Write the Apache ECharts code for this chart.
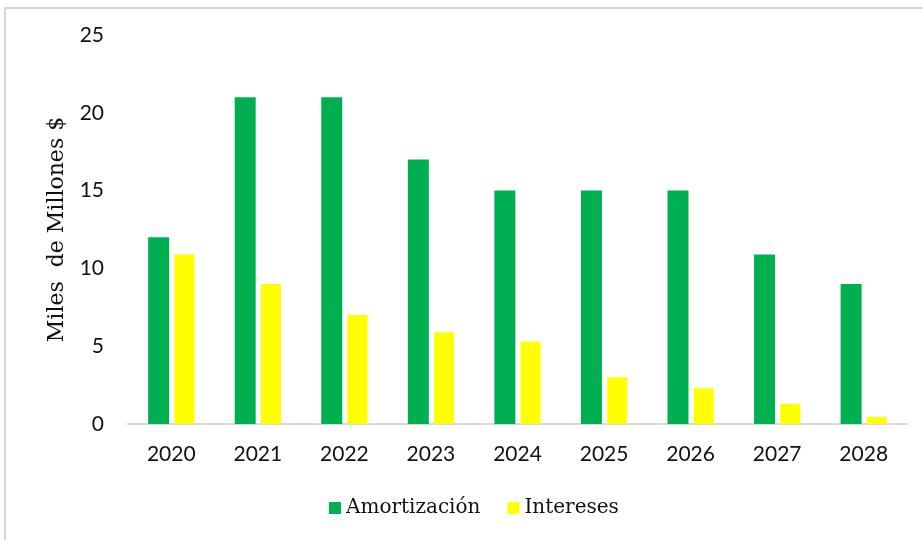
<!DOCTYPE html>
<html>
<head>
<meta charset="utf-8">
<style>
  html, body { margin: 0; padding: 0; background: #fff; }
  #frame { position: absolute; left: 4px; top: 7px; width: 919px; height: 533px;
           border-left: 2px solid #d6d6d6; border-top: 2px solid #d6d6d6; box-sizing: border-box; }
  #chart { position: absolute; left: 0; top: 0; width: 923px; height: 540px; }
</style>
<script src="https://cdn.jsdelivr.net/npm/echarts@6/dist/echarts.min.js"></script>
</head>
<body>
<div id="frame"></div>
<div id="chart"></div>
<script>
// Annual debt service, in thousands of millions of dollars
const years = ['2020', '2021', '2022', '2023', '2024', '2025', '2026', '2027', '2028'];
const amortizacion = [12, 21, 21, 17, 15, 15, 15, 10.9, 9];
const intereses = [10.9, 9, 7, 5.9, 5.3, 3, 2.3, 1.3, 0.45];
const yTicks = { min: 0, max: 25, interval: 5 };

const chart = echarts.init(document.getElementById('chart'), null, { renderer: 'canvas' });

const labelFont = 'Lato, "Open Sans", sans-serif';
const serifFont = '"DejaVu Serif", "Liberation Serif", serif';

chart.setOption({
  animation: false,
  backgroundColor: 'transparent',
  grid: { left: 128, right: 16, top: 35, bottom: 116 },
  legend: {
    data: ['Amortización', 'Intereses'],
    bottom: 17,
    left: 324,
    icon: 'rect',
    itemWidth: 12,
    itemHeight: 12,
    itemGap: 27,
    textStyle: { fontFamily: serifFont, fontSize: 20, color: '#111' }
  },
  xAxis: {
    type: 'category',
    data: years,
    axisLine: { lineStyle: { color: '#d9d9d9', width: 2 } },
    axisTick: { show: false },
    axisLabel: { fontFamily: labelFont, fontSize: 21, color: '#111', margin: 20 }
  },
  yAxis: {
    type: 'value',
    min: yTicks.min,
    max: yTicks.max,
    interval: yTicks.interval,
    name: 'Miles  de Millones $',
    nameLocation: 'middle',
    nameGap: 60,
    nameRotate: 90,
    nameTextStyle: { fontFamily: serifFont, fontSize: 22, color: '#111' },
    splitLine: { show: false },
    axisLine: { show: false },
    axisTick: { show: false },
    axisLabel: { fontFamily: labelFont, fontSize: 21, color: '#111', margin: 24 }
  },
  series: [
    {
      name: 'Amortización',
      type: 'bar',
      data: amortizacion,
      barWidth: 21,
      barGap: '25%',
      itemStyle: { color: '#00B050' }
    },
    {
      name: 'Intereses',
      type: 'bar',
      data: intereses,
      barWidth: 20,
      itemStyle: { color: '#FFFF00' }
    }
  ]
});
</script>
</body>
</html>
